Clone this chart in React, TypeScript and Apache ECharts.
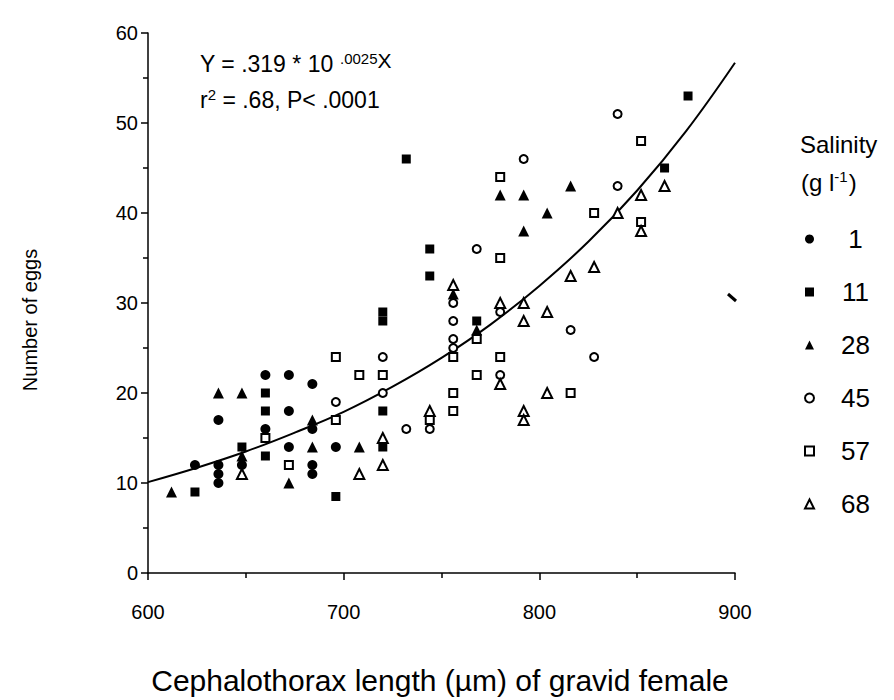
import React, { useEffect, useRef } from "react";
import * as echarts from "echarts";

// Salinity groups (g l-1)
const salinityNames = ["1", "11", "28", "45", "57", "68"];

// [cephalothorax length (µm), number of eggs]
const sal1: number[][] = [
  [624, 12], [636, 12], [636, 11], [636, 10], [636, 17], [648, 12],
  [660, 22], [660, 16], [672, 22], [672, 18], [672, 14], [684, 21],
  [684, 16], [684, 12], [684, 11], [696, 14],
];
const sal11: number[][] = [
  [624, 9], [648, 14], [660, 20], [660, 18], [660, 13], [696, 8.5],
  [720, 29], [720, 28], [720, 18], [720, 14], [732, 46], [744, 36],
  [744, 33], [768, 28], [864, 45], [876, 53],
];
const sal28: number[][] = [
  [612, 9], [636, 20], [648, 20], [648, 13], [672, 10], [684, 17],
  [684, 14], [708, 14], [756, 31], [768, 27], [780, 42], [792, 42],
  [792, 38], [804, 40], [816, 43],
];
const sal45: number[][] = [
  [696, 19], [720, 24], [720, 20], [732, 16], [744, 16], [756, 30],
  [756, 28], [756, 26], [756, 25], [768, 36], [780, 29], [780, 22],
  [792, 46], [816, 27], [828, 24], [840, 51], [840, 43],
];
const sal57: number[][] = [
  [660, 15], [672, 12], [696, 24], [696, 17], [708, 22], [720, 22],
  [744, 17], [756, 24], [756, 20], [756, 18], [768, 26], [768, 22],
  [780, 44], [780, 35], [780, 24], [816, 20], [828, 40], [852, 48],
  [852, 39],
];
const sal68: number[][] = [
  [648, 11], [708, 11], [720, 15], [720, 12], [744, 18], [756, 32],
  [780, 30], [780, 21], [792, 30], [792, 28], [792, 18], [792, 17],
  [804, 29], [804, 20], [816, 33], [828, 34], [840, 40], [852, 42],
  [852, 38], [864, 43],
];

// fitted curve
const fitX = [600, 625, 650, 675, 700, 725, 750, 775, 800, 825, 850, 875, 900];
const fitY = [10.1, 11.7, 13.5, 15.6, 17.9, 20.7, 23.9, 27.6, 31.9, 36.8, 42.5, 49.1, 56.7];

const FONT = "'Liberation Sans', Arial, Helvetica, sans-serif";

export default function App() {
  const ref = useRef<HTMLDivElement>(null);

  useEffect(() => {
    document.body.style.margin = "0";
    if (!ref.current) return;
    const chart = echarts.init(ref.current, undefined, { renderer: "svg" });

    const filled = (symbol: string, size: number) => ({
      symbol,
      symbolSize: size,
      itemStyle: { color: "#000", borderWidth: 0, opacity: 1 },
    });
    const open = (symbol: string, size: number) => ({
      symbol,
      symbolSize: size,
      itemStyle: { color: "#fff", borderColor: "#000", borderWidth: 2, opacity: 1 },
    });

    const styles = [
      filled("circle", 10),
      filled("rect", 9),
      filled("triangle", 11),
      open("circle", 8),
      open("rect", 8),
      open("triangle", 10),
    ];
    const datasets = [sal1, sal11, sal28, sal45, sal57, sal68];

    const scatterSeries = salinityNames.map((name, i) => ({
      name,
      type: "scatter",
      data: datasets[i],
      ...styles[i],
      emphasis: { disabled: true },
      z: 3,
    }));

    const option: any = {
      animation: false,
      backgroundColor: "#fff",
      textStyle: { fontFamily: FONT, color: "#000" },
      grid: { left: 148, right: 159, top: 33, bottom: 127, containLabel: false },
      xAxis: {
        type: "value",
        min: 600,
        max: 900,
        interval: 100,
        axisLine: { onZero: false, lineStyle: { color: "#000", width: 1.5 } },
        axisTick: { length: 7, lineStyle: { color: "#000", width: 1.5 } },
        minorTick: { show: true, splitNumber: 2, length: 5, lineStyle: { color: "#000", width: 1.5 } },
        splitLine: { show: false },
        axisLabel: { fontSize: 20, color: "#000", fontFamily: FONT, margin: 29 },
      },
      yAxis: {
        type: "value",
        min: 0,
        max: 60,
        interval: 10,
        axisLine: { show: true, onZero: false, lineStyle: { color: "#000", width: 1.5 } },
        axisTick: { show: true, length: 7, lineStyle: { color: "#000", width: 1.5 } },
        minorTick: { show: true, splitNumber: 2, length: 5, lineStyle: { color: "#000", width: 1.5 } },
        splitLine: { show: false },
        axisLabel: { fontSize: 20, color: "#000", fontFamily: FONT, margin: 10 },
      },
      legend: {
        data: salinityNames,
        orient: "vertical",
        left: 799,
        top: 221,
        itemWidth: 9,
        itemHeight: 9,
        itemGap: 27,
        selectedMode: false,
        textStyle: {
          fontSize: 26,
          fontFamily: FONT,
          color: "#000",
          lineHeight: 26,
          rich: {
            a: { width: 73, align: "center", fontSize: 26, lineHeight: 26, fontFamily: FONT, color: "#000" },
          },
        },
        formatter: (name: string) => `{a|${name}}`,
      },
      graphic: [
        {
          type: "text",
          x: 800,
          y: 144,
          style: {
            text: "Salinity",
            font: `24px ${FONT}`,
            fill: "#000",
            align: "left",
            verticalAlign: "middle",
          },
        },
        {
          type: "text",
          x: 801,
          y: 182,
          style: {
            text: "(g l{s|-1})",
            font: `24px ${FONT}`,
            fill: "#000",
            align: "left",
            verticalAlign: "middle",
            rich: { s: { fontSize: 15, fontFamily: FONT, padding: [0, 1, 12, 0] } },
          },
        },
        {
          type: "text",
          x: 200,
          y: 64,
          style: {
            text: "Y = .319 * 10 {s|.0025}{x|X}",
            font: `23px ${FONT}`,
            fill: "#000",
            align: "left",
            verticalAlign: "middle",
            rich: {
              s: { fontSize: 15, fontFamily: FONT, padding: [0, 0, 12, 0] },
              x: { fontSize: 21, fontFamily: FONT, padding: [0, 0, 8, 0] },
            },
          },
        },
        {
          type: "text",
          x: 200,
          y: 100,
          style: {
            text: "r{s|2} = .68, P< .0001",
            font: `23px ${FONT}`,
            fill: "#000",
            align: "left",
            verticalAlign: "middle",
            rich: { s: { fontSize: 15, fontFamily: FONT, padding: [0, 0, 12, 0] } },
          },
        },
        {
          type: "text",
          x: 30,
          y: 320,
          rotation: Math.PI / 2,
          style: {
            text: "Number of eggs",
            font: `20px ${FONT}`,
            fill: "#000",
            align: "center",
            verticalAlign: "middle",
          },
        },
        {
          type: "text",
          x: 440,
          y: 680,
          style: {
            text: "Cephalothorax length (µm) of gravid female",
            font: `30px ${FONT}`,
            fill: "#000",
            align: "center",
            verticalAlign: "middle",
          },
        },
        {
          type: "line",
          shape: { x1: 728, y1: 294, x2: 736, y2: 301 },
          style: { stroke: "#000", lineWidth: 3 },
        },
      ],
      series: [
        {
          name: "fit",
          type: "line",
          data: fitX.map((x, i) => [x, fitY[i]]),
          smooth: 0.4,
          showSymbol: false,
          lineStyle: { color: "#000", width: 2 },
          emphasis: { disabled: true },
          silent: true,
          z: 2,
        },
        ...scatterSeries,
      ],
    };

    chart.setOption(option);
    return () => chart.dispose();
  }, []);

  return (
    <div
      ref={ref}
      style={{ width: 894, height: 700, position: "absolute", left: 0, top: 0 }}
    />
  );
}
